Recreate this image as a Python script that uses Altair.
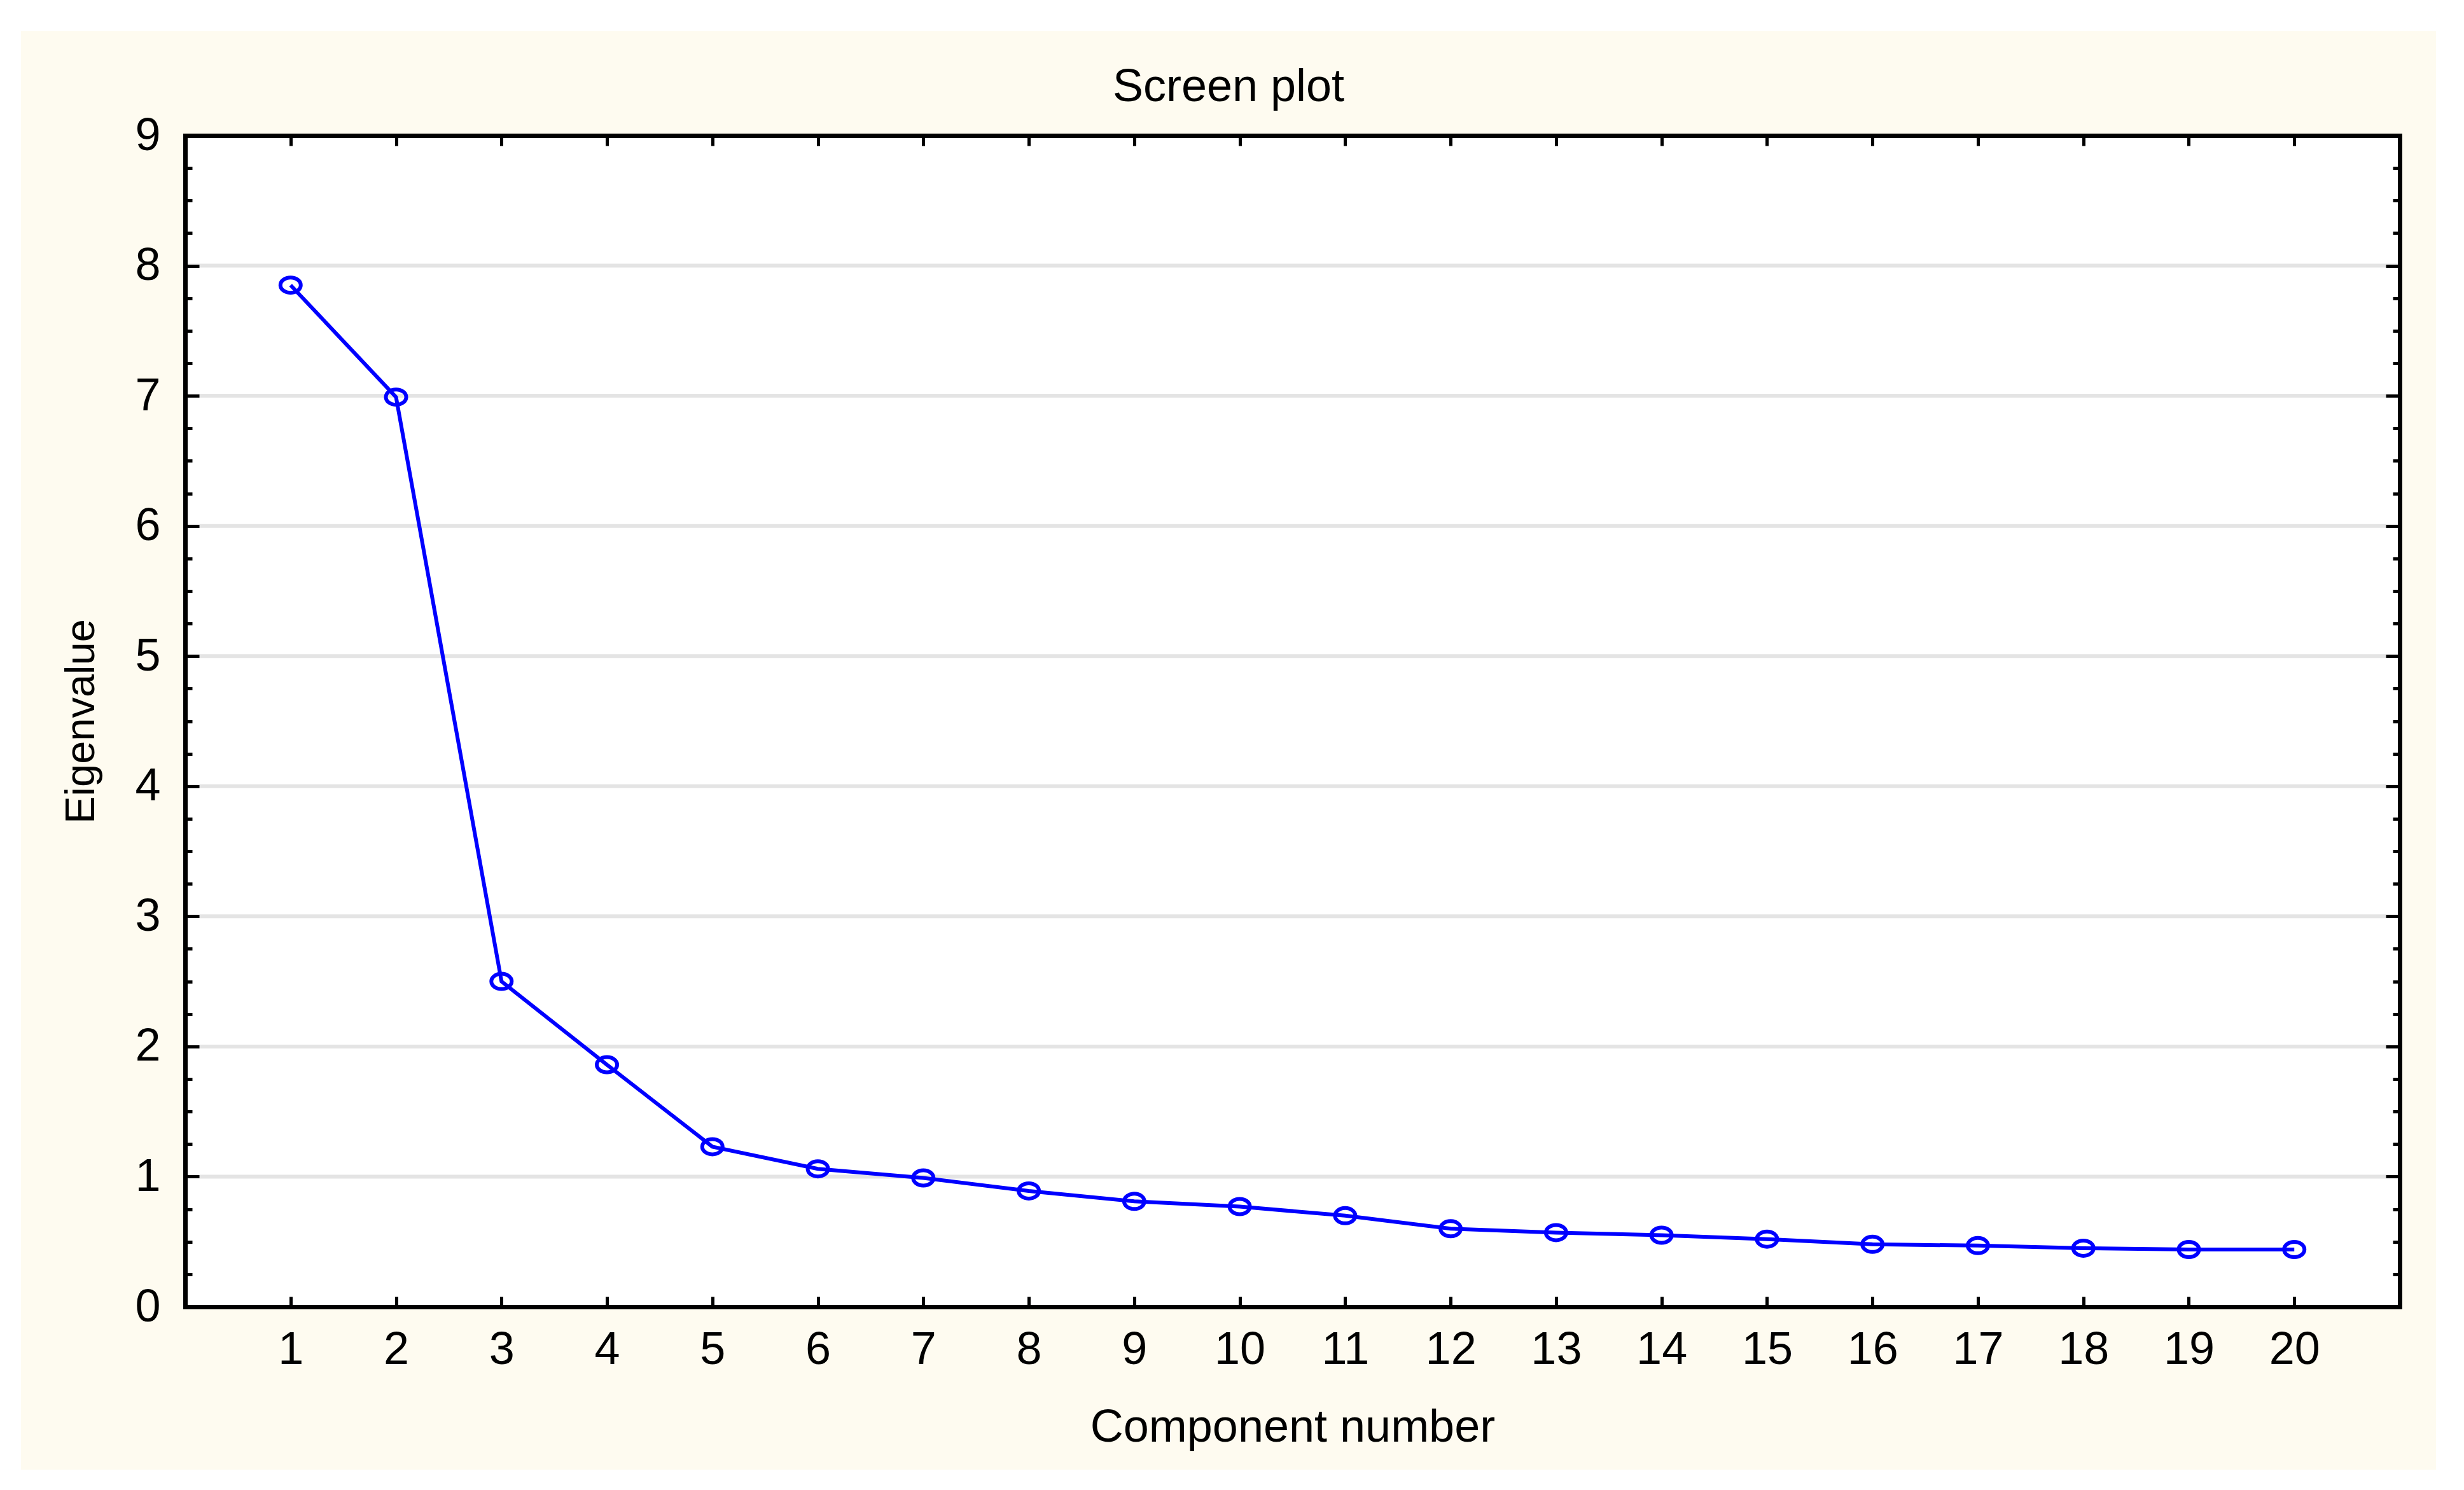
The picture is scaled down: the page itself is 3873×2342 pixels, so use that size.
import altair as alt
import pandas as pd

# ---- data ----
components = list(range(1, 21))
eigenvalues = [7.85, 6.99, 2.50, 1.86, 1.23, 1.06, 0.99, 0.89, 0.81, 0.77,
               0.70, 0.60, 0.57, 0.55, 0.52, 0.48, 0.47, 0.45, 0.44, 0.44]
x_tick_values = list(range(1, 21))
y_label_values = list(range(0, 10))
y_tick_values = list(range(1, 9))
grid_values = list(range(1, 9))
minor_tick_values = [i / 4 for i in range(1, 36) if i % 4 != 0]

title_text = "Screen plot"
x_title = "Component number"
y_title = "Eigenvalue"

# ---- layout / style ----
W, H = 3481, 1841
FONT = "Liberation Sans"
CREAM = "#fefbf0"
BLUE = "#0000ff"
GRID = "#e4e4e4"

df = pd.DataFrame({"component": components, "eigenvalue": eigenvalues})
grid_df = pd.DataFrame({"g": grid_values})
one = pd.DataFrame({"a": [0]})

xscale = alt.Scale(domain=[0, 21], nice=False, zero=False)
yscale = alt.Scale(domain=[0, 9], nice=False, zero=False)

frame_common = dict(domain=True, domainColor="black", domainWidth=7, domainCap="square",
                    ticks=True, tickColor="black", tickWidth=5, labels=False,
                    grid=False, title=None, zindex=1)
minor_common = dict(domain=False, ticks=True, tickColor="black", tickWidth=5,
                    labels=False, grid=False, title=None, zindex=1)

# x axes
ax_bottom_labels = alt.Axis(orient="bottom", values=x_tick_values, format="d",
                            domain=False, ticks=False, tickSize=0, grid=False,
                            labelPadding=32, labelFont=FONT, labelFontSize=72,
                            labelColor="black", labelFlush=False, labelOverlap=False,
                            title=x_title, titleFont=FONT, titleFontSize=72,
                            titleFontWeight="normal", titleColor="black",
                            titleBaseline="alphabetic", titleY=211, titleX=W / 2,
                            zindex=1)
ax_bottom_frame = alt.Axis(orient="top", offset=-H, values=x_tick_values, tickSize=16,
                           **frame_common)
ax_top_frame = alt.Axis(orient="bottom", offset=-H, values=x_tick_values, tickSize=16,
                        **frame_common)

# y axes
ax_left_labels = alt.Axis(orient="left", values=y_label_values, format="d",
                          domain=False, ticks=False, tickSize=0, grid=False,
                          labelPadding=39, labelFont=FONT, labelFontSize=72,
                          labelColor="black", labelBaseline="middle",
                          labelFlush=False, labelOverlap=False,
                          title=y_title, titleFont=FONT, titleFontSize=65,
                          titleFontWeight="normal", titleColor="black",
                          titleAngle=270, titleBaseline="alphabetic", titleAlign="center",
                          titleX=-144, titleY=H / 2, zindex=1)
ax_left_frame = alt.Axis(orient="right", offset=-W, values=y_tick_values, tickSize=22,
                         **frame_common)
ax_right_frame = alt.Axis(orient="left", offset=-W, values=y_tick_values, tickSize=22,
                          **frame_common)
ax_left_minor = alt.Axis(orient="right", offset=-W, values=minor_tick_values, tickSize=11,
                         **minor_common)
ax_right_minor = alt.Axis(orient="left", offset=-W, values=minor_tick_values, tickSize=11,
                          **minor_common)

cream = alt.Chart(one).mark_rect(color=CREAM).encode(
    x=alt.value(-258), x2=alt.value(3538), y=alt.value(-164), y2=alt.value(2097))
white = alt.Chart(one).mark_rect(color="white").encode(
    x=alt.value(0), x2=alt.value(W), y=alt.value(0), y2=alt.value(H))

grid = alt.Chart(grid_df).mark_rule(color=GRID, strokeWidth=6).encode(
    y=alt.Y("g:Q", scale=yscale, axis=ax_left_labels))

line = alt.Chart(df).mark_line(color=BLUE, strokeWidth=6).encode(
    x=alt.X("component:Q", scale=xscale, axis=ax_bottom_labels),
    y=alt.Y("eigenvalue:Q", scale=yscale, axis=ax_left_frame))

points = alt.Chart(df).mark_point(
    shape="M-1,0A1,0.75,0,1,1,1,0A1,0.75,0,1,1,-1,0Z",
    size=1024, filled=False, stroke=BLUE, strokeWidth=6, opacity=1).encode(
    x=alt.X("component:Q", scale=xscale, axis=ax_bottom_frame),
    y=alt.Y("eigenvalue:Q", scale=yscale, axis=ax_right_frame))

ghost1 = alt.Chart(df).mark_point(opacity=0).encode(
    x=alt.X("component:Q", scale=xscale, axis=ax_top_frame),
    y=alt.Y("eigenvalue:Q", scale=yscale, axis=ax_left_minor))

ghost2 = alt.Chart(df).mark_point(opacity=0).encode(
    x=alt.X("component:Q", scale=xscale, axis=None),
    y=alt.Y("eigenvalue:Q", scale=yscale, axis=ax_right_minor))

title = alt.Chart(one).mark_text(text=title_text, font=FONT, fontSize=72,
                                 baseline="alphabetic", align="center",
                                 color="black").encode(
    x=alt.value(1640), y=alt.value(-54))

chart = alt.layer(cream, white, grid, line, points, ghost1, ghost2, title).resolve_axis(
    x="independent", y="independent"
).properties(
    width=W, height=H,
    autosize=alt.AutoSizeParams(type="none"),
    padding={"left": 283, "top": 205, "right": 80, "bottom": 270},
    background="white",
).configure_view(stroke=None)

chart.save("out.html", embed_options={"renderer": "svg", "actions": False})
